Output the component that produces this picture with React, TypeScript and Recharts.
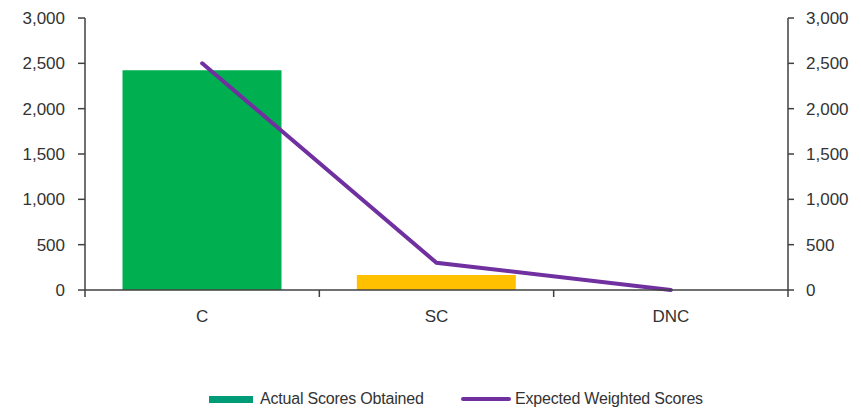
import {
  Bar,
  Cell,
  ComposedChart,
  Legend,
  Line,
  XAxis,
  YAxis,
} from "recharts";

const categories = ["C", "SC", "DNC"];
const actualScores = [2425, 165, 0];
const expectedScores = [2500, 300, 0];
const barColors = ["#00B050", "#FFC000", "#00B050"];
const scoreTicks = [0, 500, 1000, 1500, 2000, 2500, 3000];

const data = categories.map((name, i) => ({
  name,
  actual: actualScores[i],
  expected: expectedScores[i],
}));

const WIDTH = 861;
const HEIGHT = 412;
const LEFT_AXIS = 85;
const RIGHT_AXIS = 73;
const BAND = (WIDTH - LEFT_AXIS - RIGHT_AXIS) / categories.length;

const AXIS = "#404040";
const TEXT = "#333333";
const FONT = "'Liberation Sans', Arial, sans-serif";

const fmt = (v: number) => v.toLocaleString("en-US");

// category label plus the divider ticks that sit between categories
function CategoryTick(props: any) {
  const { x, y, payload, index } = props;
  const left = x - BAND / 2;
  return (
    <g>
      <line x1={left} y1={y} x2={left} y2={y + 7} stroke={AXIS} strokeWidth={1.5} />
      {index === categories.length - 1 && (
        <line x1={left + BAND} y1={y} x2={left + BAND} y2={y + 7} stroke={AXIS} strokeWidth={1.5} />
      )}
      <text x={x} y={y + 32} textAnchor="middle" fill={TEXT} fontSize={17} fontFamily={FONT}>
        {payload.value}
      </text>
    </g>
  );
}

function ScoreLegend() {
  const item = { position: "absolute" as const, top: 0, display: "flex", alignItems: "center" };
  return (
    <div
      style={{
        position: "relative",
        height: 20,
        fontFamily: FONT,
        fontSize: 16,
        letterSpacing: -0.2,
        color: TEXT,
        whiteSpace: "nowrap",
      }}
    >
      <div style={{ ...item, left: 209 }}>
        <span style={{ display: "inline-block", width: 44, height: 7, background: "#009B77" }} />
        <span style={{ marginLeft: 7 }}>Actual Scores Obtained</span>
      </div>
      <div style={{ ...item, left: 461 }}>
        <span
          style={{
            display: "inline-block",
            width: 50,
            height: 4,
            borderRadius: 2,
            background: "#7030A0",
          }}
        />
        <span style={{ marginLeft: 4 }}>Expected Weighted Scores</span>
      </div>
    </div>
  );
}

export default function App() {
  return (
    <div style={{ position: "absolute", left: 0, top: 0, background: "#fff" }}>
      <ComposedChart
        width={WIDTH}
        height={HEIGHT}
        data={data}
        margin={{ top: 18, right: 0, bottom: 82, left: 0 }}
        barCategoryGap="16%"
      >
        <XAxis
          dataKey="name"
          height={40}
          axisLine={{ stroke: AXIS, strokeWidth: 1.5 }}
          tickLine={false}
          tickSize={0}
          tickMargin={0}
          tick={<CategoryTick />}
          interval={0}
        />
        <YAxis
          yAxisId="left"
          width={LEFT_AXIS}
          domain={[0, 3000]}
          ticks={scoreTicks}
          tickFormatter={fmt}
          axisLine={{ stroke: AXIS, strokeWidth: 1.5 }}
          tickLine={{ stroke: AXIS, strokeWidth: 1.5 }}
          tickSize={7}
          tickMargin={13}
          tick={{ fill: TEXT, fontSize: 17, fontFamily: FONT }}
        />
        <YAxis
          yAxisId="right"
          orientation="right"
          width={RIGHT_AXIS}
          domain={[0, 3000]}
          ticks={scoreTicks}
          tickFormatter={fmt}
          axisLine={{ stroke: AXIS, strokeWidth: 1.5 }}
          tickLine={{ stroke: AXIS, strokeWidth: 1.5 }}
          tickSize={6}
          tickMargin={12}
          tick={{ fill: TEXT, fontSize: 17, fontFamily: FONT }}
        />
        <Legend
          layout="vertical"
          align="center"
          verticalAlign="middle"
          content={<ScoreLegend />}
          wrapperStyle={{ left: 0, top: 390, width: WIDTH }}
        />
        <Bar yAxisId="left" dataKey="actual" name="Actual Scores Obtained" isAnimationActive={false}>
          {data.map((d, i) => (
            <Cell key={d.name} fill={barColors[i]} />
          ))}
        </Bar>
        <Line
          yAxisId="right"
          dataKey="expected"
          name="Expected Weighted Scores"
          type="linear"
          stroke="#7030A0"
          strokeWidth={4}
          strokeLinecap="round"
          dot={false}
          activeDot={false}
          isAnimationActive={false}
        />
      </ComposedChart>
    </div>
  );
}
